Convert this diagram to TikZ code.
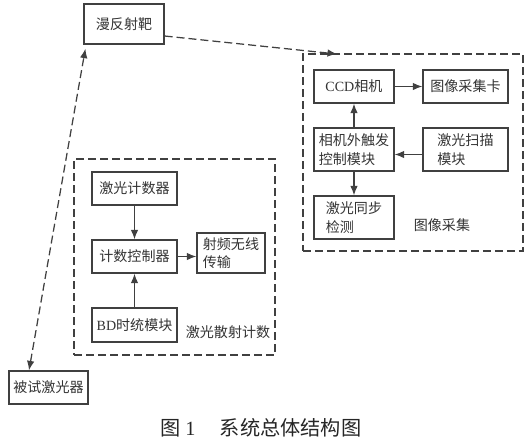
\documentclass[tikz,border=0pt]{standalone}
\usepackage{fontspec}
\setmainfont{Liberation Serif}
\newfontfamily\cjk{Noto Sans CJK SC}
\usetikzlibrary{arrows.meta}
\tikzset{
  blk/.style={draw=black!75, line width=0.025cm, inner sep=0pt, align=left,
    font=\fontsize{8}{10.5}\selectfont\cjk, text=black!80},
  frm/.style={draw=black!75, line width=0.025cm, dash pattern=on 0.16cm off 0.08cm, inner sep=0pt},
  lbl/.style={font=\fontsize{8}{10}\selectfont\cjk, text=black!80},
  con/.style={draw=black!75, line width=0.025cm, -{Latex[length=0.19cm,width=0.15cm]}},
  dcon/.style={con, dash pattern=on 0.16cm off 0.08cm},
  dboth/.style={dcon, {Latex[length=0.19cm,width=0.15cm]}-{Latex[length=0.19cm,width=0.15cm]}},
}
\begin{document}
\begin{tikzpicture}[x=0.02cm,y=-0.02cm]
\useasboundingbox (0,0) rectangle (532,441);

% Target and tested laser
\node[blk, minimum width=1.6cm, minimum height=0.8cm] (target) at (124,24) {漫反射靶};
\node[blk, minimum width=1.58cm, minimum height=0.66cm] (laser) at (48.5,387.5) {被试激光器};

% Frame: image acquisition
\node[frm, minimum width=4.4cm, minimum height=3.94cm] (acq) at (413,152.5) {};
\node[lbl] (acqlbl) at (442,225) {图像采集};
\coordinate (acqin) at (337,54);

\node[blk, minimum width=1.6cm, minimum height=0.66cm] (ccd) at (354,86.5) {{\rmfamily CCD}相机};
\node[blk, minimum width=1.7cm, minimum height=0.66cm] (card) at (465.5,86.5) {图像采集卡};
\node[blk, minimum width=1.6cm, minimum height=0.86cm] (trig) at (354,149.5) {相机外触发\\控制模块};
\node[blk, minimum width=1.7cm, minimum height=0.86cm] (scan) at (465.5,149.5) {激光扫描\\模块};
\node[blk, minimum width=1.6cm, minimum height=0.86cm] (sync) at (354,217.5) {激光同步\\检测};

% Frame: scatter counting
\node[frm, minimum width=4.02cm, minimum height=3.92cm] (cnting) at (174.5,257) {};
\node[lbl] (cntlbl) at (228,332) {激光散射计数};

\node[blk, minimum width=1.7cm, minimum height=0.66cm] (cnt) at (134.5,188.5) {激光计数器};
\node[blk, minimum width=1.7cm, minimum height=0.66cm] (ctrl) at (134.5,256.5) {计数控制器};
\node[blk, minimum width=1.36cm, minimum height=0.8cm] (rf) at (231,253) {射频无线\\传输};
\node[blk, minimum width=1.7cm, minimum height=0.68cm] (bd) at (134.5,325) {{\rmfamily BD}时统模块};

% Connectors
\draw[con] (ccd) -- (card);
\draw[con] (trig) -- (ccd);
\draw[con] ([yshift=-0.1cm]scan.west) -- ([yshift=-0.1cm]trig.east);
\draw[con] (trig) -- (sync);
\draw[con] (cnt) -- (ctrl);
\draw[con] (ctrl.east) -- (ctrl.east -| rf.west);
\draw[con] (bd) -- (ctrl);
\draw[dcon] ([yshift=-0.24cm]target.east) -- (acqin);
\draw[dboth] ([xshift=-0.39cm]laser.north) -- ([xshift=0.04cm,yshift=-0.08cm]target.south west);

% Caption
\node[font=\fontsize{11.5}{13}\selectfont\cjk, text=black!85] (cap) at (261,428)
  {图 {\rmfamily 1}\hspace{1.2em}系统总体结构图};
\end{tikzpicture}
\end{document}
